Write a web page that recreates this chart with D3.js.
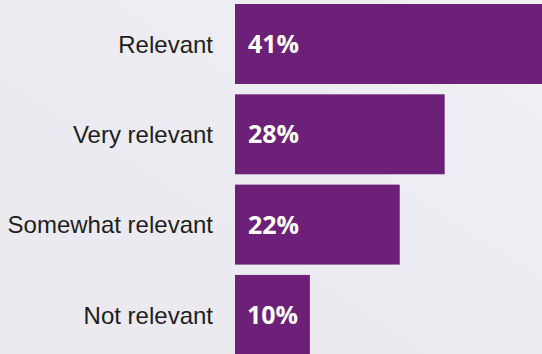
<!DOCTYPE html>
<html>
<head>
<meta charset="utf-8">
<script src="https://cdn.jsdelivr.net/npm/d3@7"></script>
<style>
  html, body { margin: 0; padding: 0; background: #edecf1; }
  svg { display: block; }
</style>
</head>
<body>
<svg id="chart" width="542" height="354"></svg>
<script>
// Survey responses: how relevant respondents found the topic
const categories = ["Relevant", "Very relevant", "Somewhat relevant", "Not relevant"];
const shares = [41, 28, 22, 10];
const valueLabels = ["41%", "28%", "22%", "10%"];

const W = 542, H = 354;
const barLeft = 235;
const svg = d3.select("#chart");

// soft, washed-out backdrop
const defs = svg.append("defs");
const bg = defs.append("linearGradient").attr("id", "bg")
  .attr("x1", "0").attr("y1", "1").attr("x2", "1").attr("y2", "0");
bg.append("stop").attr("offset", "0%").attr("stop-color", "#ebe9ee");
bg.append("stop").attr("offset", "50%").attr("stop-color", "#ecebf1");
bg.append("stop").attr("offset", "100%").attr("stop-color", "#f1f0f5");
svg.append("rect").attr("width", W).attr("height", H).attr("fill", "url(#bg)");

const x = d3.scaleLinear()
  .domain([0, d3.max(shares)])
  .range([barLeft, W]);

const y = d3.scaleBand()
  .domain(categories)
  .range([4, 354.9])
  .paddingInner(0.1144)
  .paddingOuter(0)
  .align(0);

const rows = categories.map((c, i) => ({ cat: c, v: shares[i], label: valueLabels[i] }));

const g = svg.append("g");

g.selectAll("rect.bar")
  .data(rows)
  .join("rect")
  .attr("class", "bar")
  .attr("x", x(0))
  .attr("y", d => y(d.cat))
  .attr("width", d => x(d.v) - x(0))
  .attr("height", y.bandwidth())
  .attr("fill", "#6c2077");

// category names, right-aligned against the bars
g.selectAll("text.cat")
  .data(rows)
  .join("text")
  .attr("class", "cat")
  .attr("x", barLeft - 22)
  .attr("y", d => y(d.cat) + y.bandwidth() / 2)
  .attr("dy", "0.36em")
  .attr("text-anchor", "end")
  .attr("font-family", "'Liberation Sans', Arial, sans-serif")
  .attr("font-size", 24)
  .attr("fill", "#1e1e1e")
  .text(d => d.cat);

// percentage inside each bar
g.selectAll("text.val")
  .data(rows)
  .join("text")
  .attr("class", "val")
  .attr("x", x(0) + 13)
  .attr("y", d => y(d.cat) + y.bandwidth() / 2)
  .attr("dy", "0.36em")
  .attr("font-family", "'Open Sans', 'Liberation Sans', sans-serif")
  .attr("font-weight", 700)
  .attr("font-size", 25)
  .attr("fill", "#ffffff")
  .text(d => d.label)
  .each(function(d) {
    const w = this.getComputedTextLength();
    const bw = x(d.v) - x(0);
    if (bw < w + 26) {
      d3.select(this).attr("x", x(0) + (bw - w) / 2);
    }
  });
</script>
</body>
</html>
